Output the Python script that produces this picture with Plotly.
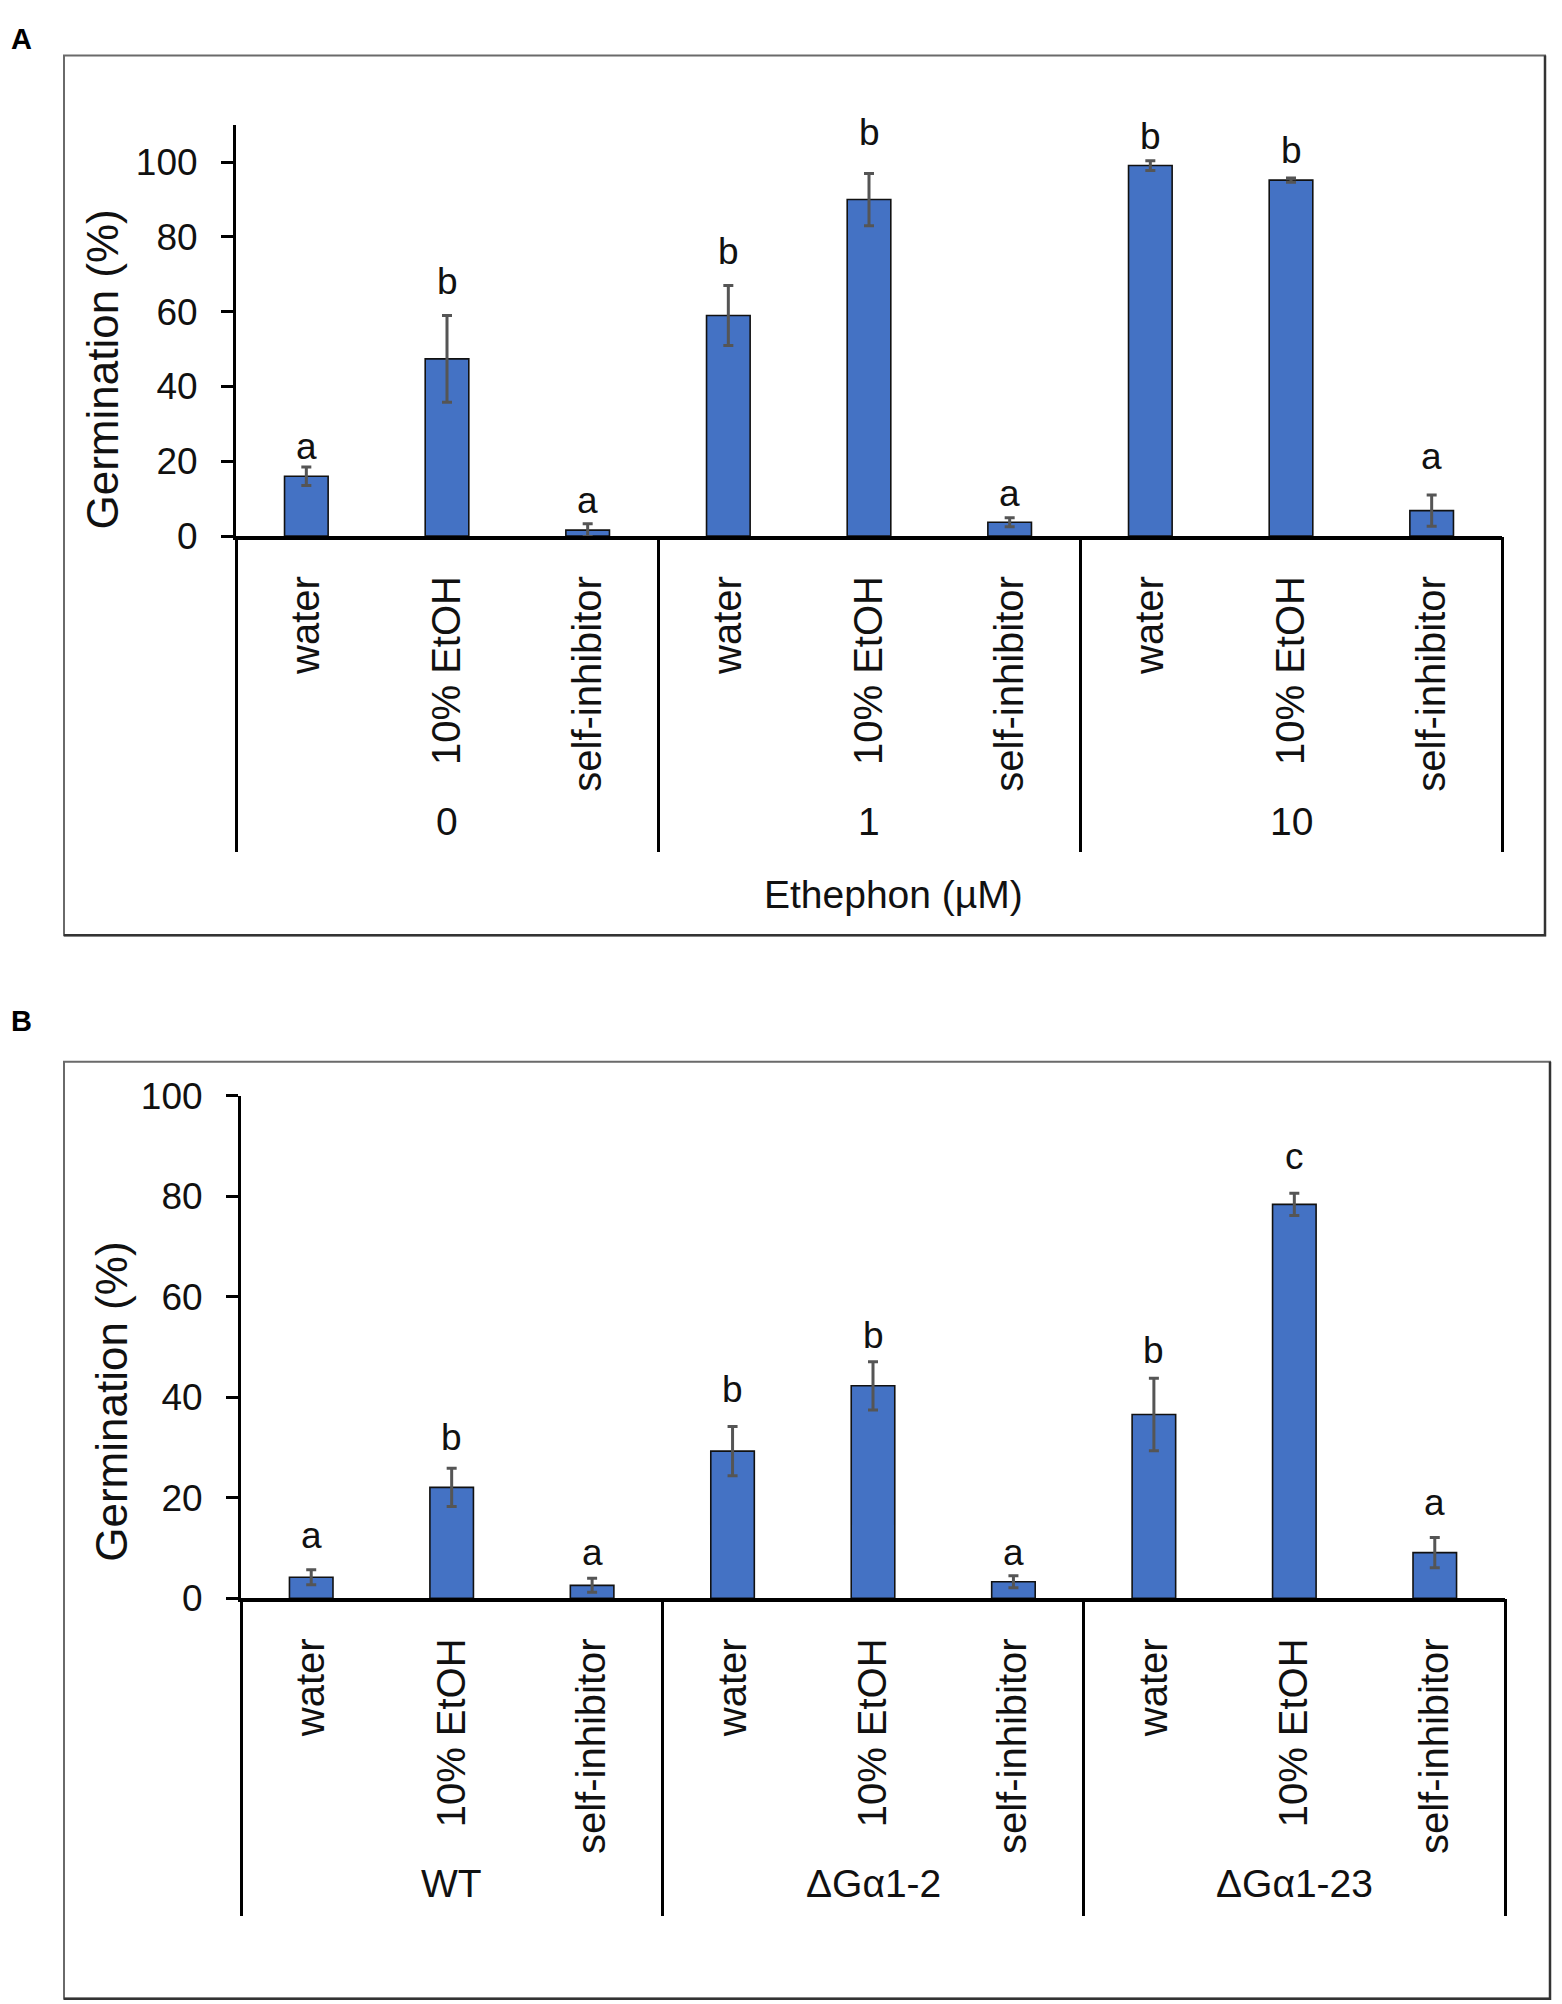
import plotly.graph_objects as go

# page geometry (the HTML body keeps its default 8 px margin)
PAGE_W = 1562
OFF = 8
W = PAGE_W - 2 * OFF
H = 2016
# vertical calibration of the captured page (measured from earlier renders)
SQ, SHIFT = 0.9766, 20.7

# ---------------- data ----------------
treatments = ["water", "10% EtOH", "self-inhibitor"]

groups_A = ["0", "1", "10"]
means_A = [16.0, 47.4, 1.6, 59.0, 90.0, 3.7, 99.1, 95.2, 6.8]
errs_A = [2.5, 11.6, 1.7, 8.0, 7.0, 1.2, 1.3, 0.6, 4.2]
letters_A = ["a", "b", "a", "b", "b", "a", "b", "b", "a"]
letter_y_A = [23.9, 68.0, 9.4, 76.2, 108.0, 11.5, 107.0, 103.0, 21.2]

groups_B = ["WT", "ΔGα1-2", "ΔGα1-23"]
means_B = [4.2, 22.1, 2.6, 29.3, 42.3, 3.3, 36.6, 78.4, 9.1]
errs_B = [1.5, 3.8, 1.4, 4.9, 4.8, 1.2, 7.2, 2.2, 3.0]
letters_B = ["a", "b", "a", "b", "b", "a", "b", "c", "a"]
letter_y_B = [12.6, 32.1, 9.2, 41.5, 52.3, 9.1, 49.4, 87.9, 19.0]

y_ticks = [0, 20, 40, 60, 80, 100]
y_title = "Germination (%)"
x_title_A = "Ethephon (µM)"

# ---------------- style ----------------
FONT = "Arial, 'Liberation Sans', sans-serif"
TXT = "#111111"
BAR = "#4472C4"
ERR = "#555555"

def fx(px):
    return (px - OFF) / W

def page_y(px):
    return (px - SHIFT) / SQ

def fy(px):
    return 1 - (page_y(px) - OFF) / H

def vlen(px):
    return px / SQ

fig = go.Figure()

panels = [
    dict(means=means_A, errs=errs_A, letters=letters_A, ly=letter_y_A, groups=groups_A,
         xa="x", ya="y", xs="x3", yr=[0, 110],
         xdom=[fx(236), fx(1502)], ydom=[fy(535), fy(125)],
         sep_len=308, group_py=820, title_px=(103, 369),
         box=(64, 56, 1545, 933), label="A", label_py=28),
    dict(means=means_B, errs=errs_B, letters=letters_B, ly=letter_y_B, groups=groups_B,
         xa="x2", ya="y2", xs="x4", yr=[0, 100],
         xdom=[fx(241), fx(1505)], ydom=[fy(1594), fy(1093)],
         sep_len=309, group_py=1878, title_px=(112, 1398),
         box=(64, 1059, 1550, 1993), label="B", label_py=1018),
]

annotations = []
shapes = []
layout_axes = {}

for i, p in enumerate(panels):
    n = len(p["means"])
    xs = list(range(n))
    ticktext = [treatments[k % len(treatments)] for k in range(n)]
    fig.add_trace(go.Bar(
        x=xs, y=p["means"], width=0.31,
        marker=dict(color=BAR, line=dict(color="#111111", width=1.6)),
        error_y=dict(type="data", array=p["errs"], visible=True,
                     color=ERR, thickness=3, width=5),
        xaxis=p["xa"], yaxis=p["ya"], showlegend=False, hoverinfo="skip",
    ))
    # empty trace so the separator axis is instantiated
    fig.add_trace(go.Scatter(x=[], y=[], xaxis=p["xs"], yaxis=p["ya"],
                             showlegend=False, hoverinfo="skip"))

    xkey = "xaxis" if p["xa"] == "x" else "xaxis" + p["xa"][1:]
    ykey = "yaxis" if p["ya"] == "y" else "yaxis" + p["ya"][1:]
    skey = "xaxis" + p["xs"][1:]

    layout_axes[xkey] = dict(
        domain=p["xdom"], anchor=p["ya"], range=[-0.5, n - 0.5],
        tickmode="array", tickvals=xs, ticktext=ticktext, tickangle=-90,
        ticks="", showgrid=False, zeroline=False,
        showline=True, linecolor="#000000", linewidth=4,
        tickfont=dict(family=FONT, size=40, color=TXT),
        ticklabelstandoff=20, fixedrange=True,
    )
    layout_axes[skey] = dict(
        domain=p["xdom"], anchor=p["ya"], overlaying=p["xa"], matches=p["xa"],
        range=[-0.5, n - 0.5], tickmode="array",
        tickvals=[g * 3 - 0.5 for g in range(len(p["groups"]) + 1)],
        showticklabels=False, ticks="outside", ticklen=vlen(p["sep_len"]),
        tickwidth=3, tickcolor="#000000", showgrid=False, zeroline=False,
        showline=False, fixedrange=True,
    )
    layout_axes[ykey] = dict(
        domain=p["ydom"], anchor=p["xa"], range=p["yr"],
        tickmode="array", tickvals=y_ticks, ticks="outside", ticklen=12,
        tickwidth=3, tickcolor="#000000", showline=True, linecolor="#000000",
        linewidth=3, showgrid=False, zeroline=False,
        tickfont=dict(family=FONT, size=37, color=TXT),
        ticklabelstandoff=16, fixedrange=True,
    )

    # significance letters
    for k in range(n):
        annotations.append(dict(
            x=k, y=p["ly"][k], xref=p["xa"], yref=p["ya"], text=p["letters"][k],
            showarrow=False, yanchor="middle",
            font=dict(family=FONT, size=37, color=TXT)))
    # group labels
    for g, name in enumerate(p["groups"]):
        annotations.append(dict(
            x=g * 3 + 1, y=fy(p["group_py"]), xref=p["xa"], yref="paper",
            text=name, showarrow=False, yanchor="middle",
            font=dict(family=FONT, size=39, color=TXT)))
    # y title
    annotations.append(dict(
        x=fx(p["title_px"][0]), y=fy(p["title_px"][1]), xref="paper", yref="paper",
        text=y_title, textangle=-90, showarrow=False,
        xanchor="center", yanchor="middle",
        font=dict(family=FONT, size=44, color=TXT)))
    # panel letter
    annotations.append(dict(
        x=fx(9), y=min(fy(p["label_py"]), 1 - 11.5 / H), xref="paper", yref="paper",
        text="<b>%s</b>" % p["label"],
        showarrow=False, xanchor="left", yanchor="middle",
        font=dict(family=FONT, size=29, color="#000000")))
    # panel frame: light top/left, darker right/bottom
    x0, y0, x1, y1 = p["box"]
    shapes.append(dict(type="rect", xref="paper", yref="paper",
                       x0=fx(x0), x1=fx(x1), y0=fy(y1), y1=fy(y0),
                       line=dict(color="#6a6a6a", width=2), layer="below"))
    shapes.append(dict(type="path", xref="paper", yref="paper",
                       path="M %f,%f L %f,%f L %f,%f" % (fx(x1), fy(y0), fx(x1), fy(y1),
                                                          fx(x0), fy(y1)),
                       line=dict(color="#333333", width=2.5), layer="below"))

# x title panel A
annotations.append(dict(
    x=fx(893), y=fy(892), xref="paper", yref="paper", text=x_title_A,
    showarrow=False, xanchor="center", yanchor="middle",
    font=dict(family=FONT, size=39, color=TXT)))

fig.update_layout(
    width=W, height=H, margin=dict(l=0, r=0, t=0, b=0),
    paper_bgcolor="white", plot_bgcolor="rgba(0,0,0,0)",
    annotations=annotations, shapes=shapes, showlegend=False,
    **layout_axes,
)

fig.write_html("out.html")
